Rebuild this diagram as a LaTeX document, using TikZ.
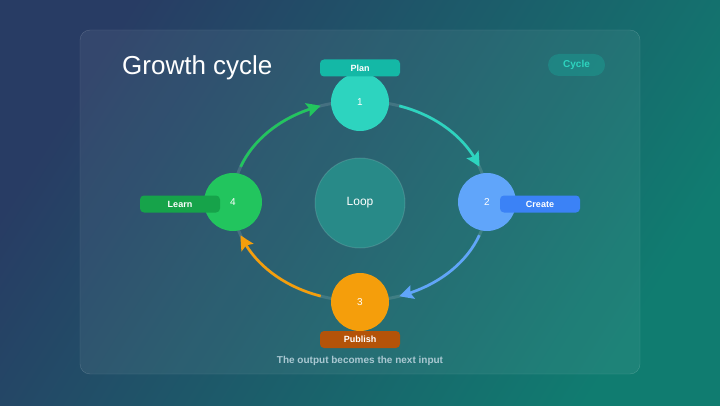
\documentclass[tikz,border=0pt]{standalone}
\usepackage{fontspec}
\setmainfont{Liberation Sans}
\usetikzlibrary{arrows.meta,bending,calc}
\definecolor{bgA}{RGB}{40,60,100}
\definecolor{bgB}{RGB}{16,124,112}
\definecolor{cTeal}{HTML}{2DD4BF}
\definecolor{cBlue}{HTML}{60A5FA}
\definecolor{cAmber}{HTML}{F59E0B}
\definecolor{cGreen}{HTML}{22C55E}
\definecolor{lTeal}{HTML}{14B8A6}
\definecolor{lBlue}{HTML}{3B82F6}
\definecolor{lGreen}{HTML}{16A34A}
\definecolor{lAmber}{HTML}{B45309}
\definecolor{loopFill}{RGB}{40,138,136}
\definecolor{footTxt}{RGB}{170,200,210}
\tikzset{
  stepnode/.style={circle, minimum size=58pt, inner sep=0pt, text=white, font=\fontsize{10}{12}\selectfont},
  tagbox/.style={rounded corners=4pt, minimum width=80pt, minimum height=17pt, inner sep=0pt, text=white, font=\fontsize{9}{11}\selectfont\bfseries},
  arr/.style={line width=2.6pt, -{Stealth[length=14pt,width=14pt,inset=2.5pt,bend]}}
}
\begin{document}
\begin{tikzpicture}[x=1pt,y=1pt]
\useasboundingbox (0,0) rectangle (720,405);
\shade[top color=bgA, bottom color=bgB, shading angle=58] (0,0) rectangle (720,405);
% panel
\node[draw=white, draw opacity=0.18, fill=white, fill opacity=0.06, rounded corners=10pt,
      minimum width=560pt, minimum height=344pt, inner sep=0pt] (panel) at (360,203) {};
% title
\node[anchor=west, text=white, font=\fontsize{26}{30}\selectfont, inner sep=0pt] (title) at (122,337.5) {Growth cycle};
% badge
\node[fill=lTeal, fill opacity=0.3, text opacity=1, rounded corners=11pt, minimum width=57pt, minimum height=22pt,
      inner sep=0pt, text=cTeal, font=\fontsize{10}{12}\selectfont\bfseries] (badge) at (576.5,340) {Cycle};
% center
\coordinate (C) at (360,204);
\draw[white, opacity=0.12, line width=3pt] (C) ellipse[x radius=127, y radius=100];
\node[circle, fill=loopFill, draw=white, draw opacity=0.12, line width=1pt, minimum size=90pt, inner sep=0pt,
      text=white, font=\fontsize{12}{14}\selectfont] (loop) at (360,202) {Loop};
% arrows
\coordinate (a1) at ($(C)+(72:127 and 100)$);
\coordinate (a2) at ($(C)+(-20:127 and 100)$);
\coordinate (a3) at ($(C)+(-108:127 and 100)$);
\coordinate (a4) at ($(C)+(160:127 and 100)$);
\draw[arr, cTeal] (a1) arc[start angle=72, end angle=20, x radius=127, y radius=100];
\draw[arr, cBlue] (a2) arc[start angle=-20, end angle=-72, x radius=127, y radius=100];
\draw[arr, cAmber] (a3) arc[start angle=-108, end angle=-160, x radius=127, y radius=100];
\draw[arr, cGreen] (a4) arc[start angle=160, end angle=108, x radius=127, y radius=100];
% steps
\node[stepnode, fill=cTeal] (n1) at (360,303) {1};
\node[stepnode, fill=cBlue] (n2) at (487,203) {2};
\node[stepnode, fill=cAmber] (n3) at (360,103) {3};
\node[stepnode, fill=cGreen] (n4) at (233,203) {4};
% tags
\node[tagbox, fill=lTeal] (t1) at (360,337) {Plan};
\node[tagbox, fill=lBlue] (t2) at (540,201) {Create};
\node[tagbox, fill=lAmber] (t3) at (360,65.5) {Publish};
\node[tagbox, fill=lGreen] (t4) at (180,201) {Learn};
% footer
\node[text=footTxt, font=\fontsize{10}{12}\selectfont\bfseries] (foot) at (360,44) {The output becomes the next input};
\end{tikzpicture}
\end{document}
